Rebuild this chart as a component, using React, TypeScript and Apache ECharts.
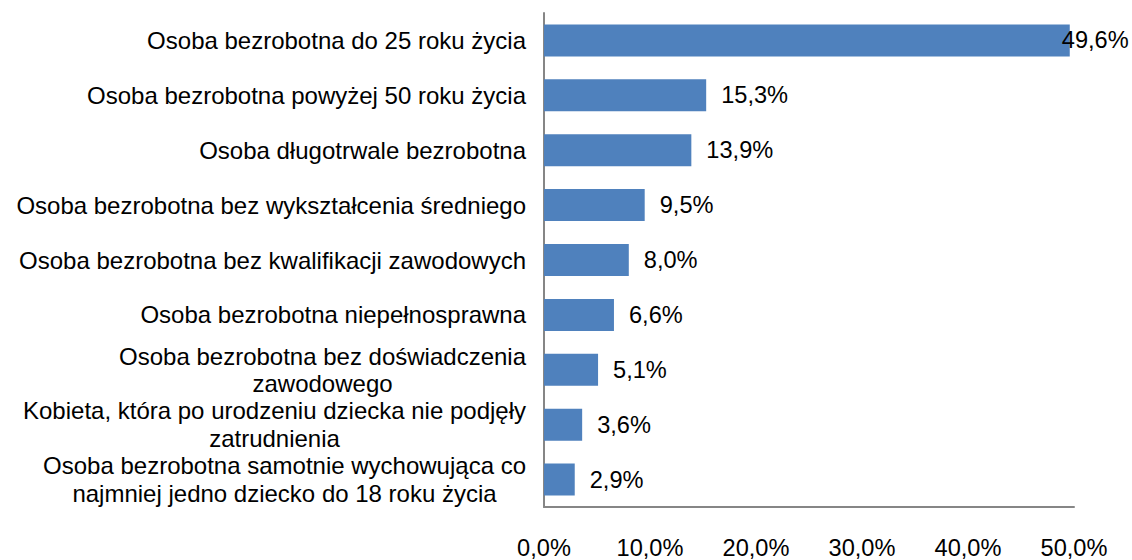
import React, { useEffect, useRef } from "react";
import * as echarts from "echarts";

const categories: string[] = [
  "Osoba bezrobotna do 25 roku życia",
  "Osoba bezrobotna powyżej 50 roku życia",
  "Osoba długotrwale bezrobotna",
  "Osoba bezrobotna bez wykształcenia średniego",
  "Osoba bezrobotna bez kwalifikacji zawodowych",
  "Osoba bezrobotna niepełnosprawna",
  "Osoba bezrobotna bez doświadczenia\nzawodowego",
  "Kobieta, która po urodzeniu dziecka nie podjęły\nzatrudnienia",
  "Osoba bezrobotna samotnie wychowująca co\nnajmniej jedno dziecko do 18 roku życia",
];
const values: number[] = [49.6, 15.3, 13.9, 9.5, 8.0, 6.6, 5.1, 3.6, 2.9];
const axisTicks: number[] = [0, 10, 20, 30, 40, 50];

const FONT = "'Liberation Sans', Arial, sans-serif";
const CAT_SIZE = 24;
const NUM_SIZE = 23.6;

function measure(text: string, size: number): number {
  const c = document.createElement("canvas");
  const ctx = c.getContext("2d");
  if (!ctx) return text.length * size * 0.5;
  ctx.font = `${size}px ${FONT}`;
  return ctx.measureText(text).width;
}

export default function App() {
  const ref = useRef<HTMLDivElement>(null);
  useEffect(() => {
    document.body.style.margin = "0";
    if (!ref.current) return;
    const chart = echarts.init(ref.current, undefined, { renderer: "svg" });

    const catData = categories.map((cat) => {
      const w = Math.max(...cat.split("\n").map((l) => measure(l, CAT_SIZE)));
      return {
        value: cat,
        textStyle: { align: "center", padding: [0, w, 0, 0] },
      };
    });

    const data = values.map((v, i) =>
      i === 0 ? { value: v, label: { offset: [-23, 0] } } : { value: v }
    );
    chart.setOption({
      animation: false,
      textStyle: { fontFamily: FONT },
      grid: { left: 544, right: 58, top: 13, bottom: 48, containLabel: false },
      xAxis: {
        type: "value",
        min: axisTicks[0],
        max: axisTicks[axisTicks.length - 1],
        interval: 10,
        axisLine: { show: true, lineStyle: { color: "#868686", width: 2 } },
        axisTick: { show: false },
        splitLine: { show: false },
        axisLabel: {
          color: "#000",
          fontSize: NUM_SIZE,
          fontFamily: FONT,
          margin: 29,
          formatter: (v: number) => v.toFixed(1).replace(".", ",") + "%",
        },
      },
      yAxis: {
        type: "category",
        inverse: true,
        data: catData,
        axisLine: { show: true, lineStyle: { color: "#868686", width: 2 } },
        axisTick: { show: false },
        axisLabel: {
          color: "#000",
          fontSize: CAT_SIZE,
          fontFamily: FONT,
          lineHeight: 27.5,
          margin: 18,
          align: "center",
          interval: 0,
          hideOverlap: false,
        },
      },
      series: [
        {
          type: "bar",
          data,
          barWidth: 32,
          itemStyle: { color: "#4F81BD" },
          label: {
            show: true,
            position: "right",
            distance: 15,
            color: "#000",
            fontSize: NUM_SIZE,
            fontFamily: FONT,
            formatter: (p: any) => p.value.toFixed(1).replace(".", ",") + "%",
          },
        },
      ],
    });
    return () => chart.dispose();
  }, []);
  return <div ref={ref} style={{ width: 1132, height: 560 }} />;
}
